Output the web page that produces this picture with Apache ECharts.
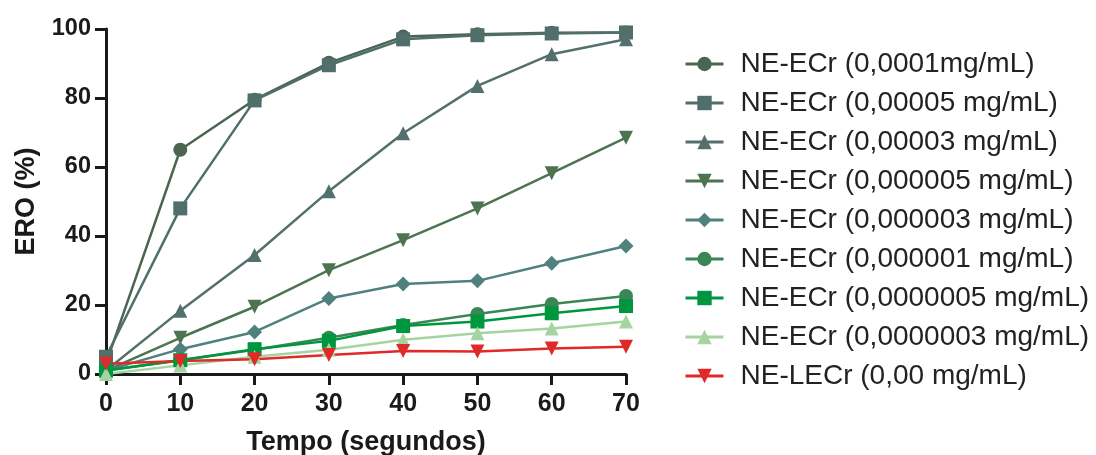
<!DOCTYPE html>
<html>
<head>
<meta charset="utf-8">
<script src="https://cdn.jsdelivr.net/npm/echarts@6/dist/echarts.min.js"></script>
<style>html,body{margin:0;padding:0;background:#fff;}#c{width:1096px;height:455px;}</style>
</head>
<body>
<div id="c"></div>
<script>
const time = [0, 10, 20, 30, 40, 50, 60, 70];
const names = [
  'NE-ECr (0,0001mg/mL)',
  'NE-ECr (0,00005 mg/mL)',
  'NE-ECr (0,00003 mg/mL)',
  'NE-ECr (0,000005 mg/mL)',
  'NE-ECr (0,000003 mg/mL)',
  'NE-ECr (0,000001 mg/mL)',
  'NE-ECr (0,0000005 mg/mL)',
  'NE-ECr (0,0000003 mg/mL)',
  'NE-LECr (0,00 mg/mL)'
];
const s1 = [3, 65, 79.5, 90.2, 97.8, 98.5, 98.9, 99];
const s2 = [5, 48, 79.3, 89.5, 97, 98.2, 98.7, 99];
const s3 = [1, 18.3, 34.5, 53, 69.8, 83.5, 92.7, 97];
const s4 = [1, 10.5, 19.5, 30.1, 38.8, 48, 58.2, 68.5];
const s5 = [1, 7.2, 12.2, 21.9, 26.1, 27, 32.1, 37.1];
const s6 = [1, 4, 7, 10.5, 14.2, 17.4, 20.3, 22.6];
const s7 = [1, 4, 7.2, 9.6, 13.9, 15.2, 17.6, 19.7];
const s8 = [0, 2.5, 5, 7, 9.9, 11.8, 13.2, 15.2];
const s9 = [3, 3.8, 4.3, 5.5, 6.7, 6.5, 7.4, 7.9];
const xTicks = [0, 70, 10];
const yTicks = [0, 100, 20];

const values = [s1, s2, s3, s4, s5, s6, s7, s8, s9];
const colors = ['#4a6650', '#506e6a', '#53706c', '#4e7350', '#4f817f', '#3a8755', '#00963f', '#a5d4a0', '#e02a28'];
const symbols = ['circle', 'rect', 'triangle', 'triangle', 'diamond', 'circle', 'rect', 'triangle', 'triangle'];
const rotations = [0, 0, 0, 180, 0, 0, 0, 0, 180];
const sizes = [14, 14, 14, 14, 15, 14, 14, 14, 14];

const chart = echarts.init(document.getElementById('c'));
const axisCommon = {
  axisLine: { show: true, onZero: false, lineStyle: { color: '#1a1a1a', width: 3 } },
  axisTick: { show: true, inside: false, length: 11, lineStyle: { color: '#1a1a1a', width: 3 } },
  splitLine: { show: false },
  nameTextStyle: { color: '#1a1a1a', fontFamily: 'Liberation Sans', fontWeight: 'bold', fontSize: 27 }
};
chart.setOption({
  animation: false,
  backgroundColor: '#ffffff',
  grid: { left: 106, right: 470, top: 29, bottom: 81, containLabel: false, outerBoundsMode: 'none' },
  xAxis: Object.assign({}, axisCommon, {
    type: 'value', min: xTicks[0], max: xTicks[1], interval: xTicks[2],
    axisLabel: { color: '#1a1a1a', fontFamily: 'Liberation Sans', fontWeight: 'bold', fontSize: 25, margin: 18 },
    name: 'Tempo (segundos)', nameLocation: 'middle', nameGap: 55
  }),
  yAxis: Object.assign({}, axisCommon, {
    type: 'value', min: yTicks[0], max: yTicks[1], interval: yTicks[2],
    axisLabel: { color: '#1a1a1a', fontFamily: 'Liberation Sans', fontWeight: 'bold', fontSize: 23.5, margin: 15 },
    name: 'ERO (%)', nameLocation: 'middle', nameGap: 66
  }),
  legend: {
    orient: 'vertical', left: 679, top: 45,
    itemWidth: 38, itemHeight: 18, itemGap: 11,
    lineStyle: { width: 3 },
    textStyle: { color: '#222', fontFamily: 'Liberation Sans', fontSize: 28, lineHeight: 26, padding: [0, 0, 0, 12] },
    data: names
  },
  series: values.map((v, i) => ({
    name: names[i],
    type: 'line',
    data: time.map((t, j) => [t, v[j]]),
    symbol: symbols[i],
    symbolRotate: rotations[i],
    symbolSize: sizes[i],
    showAllSymbol: true,
    clip: false,
    color: colors[i],
    lineStyle: { color: colors[i], width: 2.5 },
    itemStyle: { color: colors[i] }
  }))
});
</script>
</body>
</html>
